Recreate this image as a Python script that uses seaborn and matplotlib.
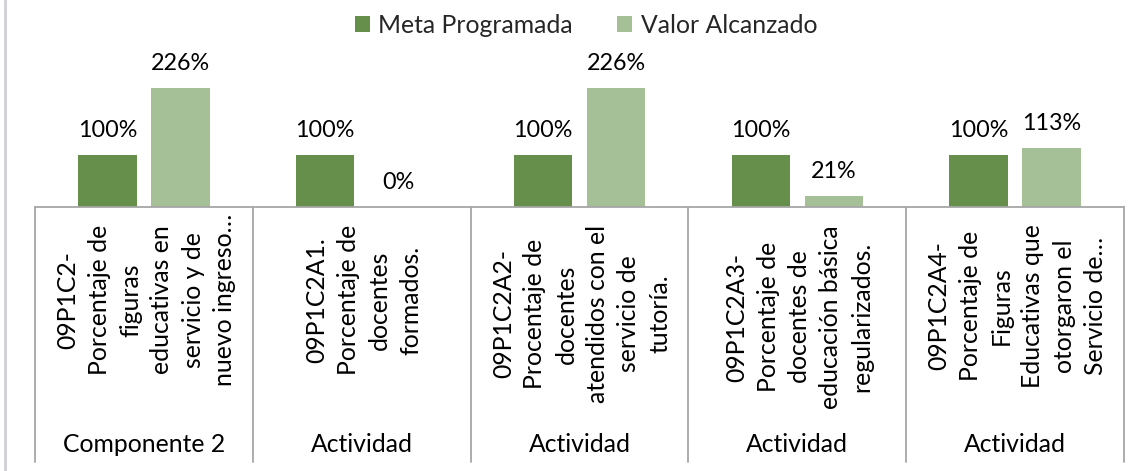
import numpy as np
import pandas as pd
import matplotlib
matplotlib.use("Agg")
import matplotlib.pyplot as plt
import matplotlib.transforms as mtransforms
import seaborn as sns

# ---- data ----
categories = [
    "09P1C2-\nPorcentaje de\nfiguras\neducativas en\nservicio y de\nnuevo ingreso…",
    "09P1C2A1.\nPorcentaje de\ndocentes\nformados.",
    "09P1C2A2-\nProcentaje de\ndocentes\natendidos con el\nservicio de\ntutoría.",
    "09P1C2A3-\nPorcentaje de\ndocentes de\neducación básica\nregularizados.",
    "09P1C2A4-\nPorcentaje de\nFiguras\nEducativas que\notorgaron el\nServicio de…",
]
levels = ["Componente 2", "Actividad", "Actividad", "Actividad", "Actividad"]
series_names = ["Meta Programada", "Valor Alcanzado"]
meta = [100, 100, 100, 100, 100]
valor = [226, 0, 226, 21, 113]
colors = ["#629A3F", "#A3C690"]

ids = [f"c{i}" for i in range(len(categories))]
df = pd.DataFrame({
    "cat": ids * 2,
    "serie": [series_names[0]] * len(ids) + [series_names[1]] * len(ids),
    "val": meta + valor,
})

sns.set_theme(style="white")
plt.rcParams["font.family"] = ["Lato", "DejaVu Sans"]

W, H = 1142, 471
fig = plt.figure(figsize=(W / 100, H / 100), dpi=100)
fig.patch.set_facecolor("white")

x0, x1 = 35, 1124          # plot area px
y_axis = 207               # zero line px (from top)
y_top = 40
px_per_unit = 0.5245
ax = fig.add_axes([x0 / W, (H - y_axis) / H, (x1 - x0) / W, (y_axis - y_top) / H])

sns.barplot(data=df, x="cat", y="val", hue="serie", order=ids,
            hue_order=series_names, palette=colors, width=0.67, gap=0.2,
            linewidth=0, ax=ax, legend=True)
ax.set_xlim(-0.5, len(ids) - 0.5)
ax.set_ylim(0, (y_axis - y_top) / px_per_unit)
ax.set_xlabel("")
ax.set_ylabel("")
ax.set_xticks([])
ax.set_yticks([])
for s in ["top", "left", "right"]:
    ax.spines[s].set_visible(False)
ax.spines["bottom"].set_color("#a6a6a6")
ax.spines["bottom"].set_linewidth(1.3)

# data labels
for cont in ax.containers:
    for bar in cont:
        h = bar.get_height()
        ax.annotate(f"{h:.0f}%", (bar.get_x() + bar.get_width() / 2, h),
                    xytext=(0, 18), textcoords="offset pixels",
                    ha="center", va="baseline", fontsize=16.8, color="#000000")

# legend
handles, labels = ax.get_legend_handles_labels()
ax.get_legend().remove()
fig.legend(handles, labels, loc="upper center", bbox_to_anchor=(586 / W, 1.018),
           ncol=2, frameon=False, fontsize=17.8, handlelength=0.6,
           handleheight=0.6, handletextpad=0.35, columnspacing=1.8)

# category axis: separators and labels
tr = mtransforms.blended_transform_factory(ax.transData, fig.transFigure)
y_bottom_line = (H - 462) / H
for b in np.arange(-0.5, len(ids), 1.0):
    ax.plot([b, b], [(H - y_axis) / H, y_bottom_line], transform=tr,
            color="#a6a6a6", lw=1.3, clip_on=False)

label_centers = [300, 300, 314, 317, 306]
for i, (lab, lev) in enumerate(zip(categories, levels)):
    ax.text(i + 0.01, (H - label_centers[i]) / H, lab, transform=tr, rotation=90,
            ha="center", va="center", multialignment="center",
            fontsize=17.8, linespacing=1.44, color="#000000")
    ax.text(i, (H - 452) / H, lev, transform=tr, ha="center", va="baseline",
            fontsize=17.8, color="#000000")

# left window edge artifact
fig.add_artist(plt.Line2D([5 / W, 5 / W], [0, 1], transform=fig.transFigure,
                          color="#cfcfd6", lw=2))

fig.savefig("out.png", dpi=100, facecolor="white")
